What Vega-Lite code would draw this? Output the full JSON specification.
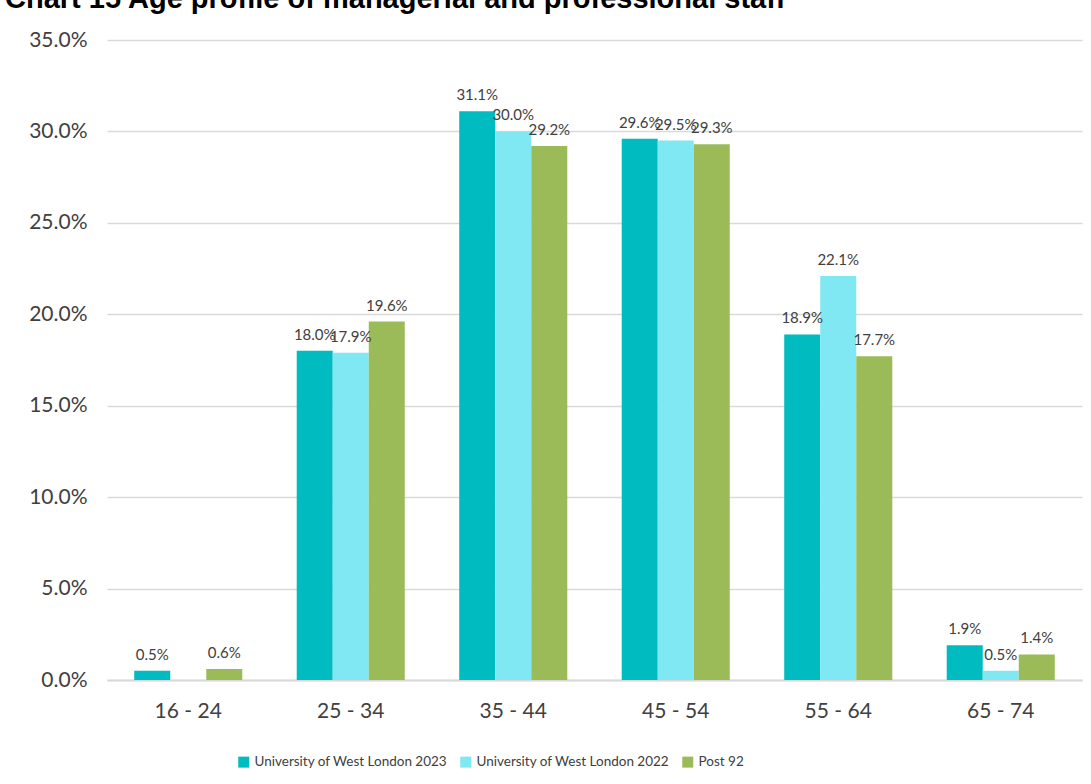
{
  "$schema": "https://vega.github.io/schema/vega-lite/v6.json",
  "width": 975,
  "height": 640,
  "autosize": {"type": "none"},
  "padding": {"left": 107, "top": 40, "right": 9, "bottom": 104},
  "background": "white",
  "title": {
    "text": "Chart 15 Age profile of managerial and professional staff",
    "anchor": "start",
    "frame": "group",
    "dx": -102,
    "dy": -11,
    "font": "Liberation Sans",
    "fontSize": 29,
    "fontWeight": "bold",
    "color": "#000000",
    "limit": 0
  },
  "config": {
    "view": {"stroke": null},
    "font": "Lato"
  },
  "data": {
    "values": [
      {"age": "16 - 24", "series": "University of West London 2023", "value": 0.005},
      {"age": "16 - 24", "series": "Post 92", "value": 0.006},
      {"age": "25 - 34", "series": "University of West London 2023", "value": 0.180},
      {"age": "25 - 34", "series": "University of West London 2022", "value": 0.179},
      {"age": "25 - 34", "series": "Post 92", "value": 0.196},
      {"age": "35 - 44", "series": "University of West London 2023", "value": 0.311},
      {"age": "35 - 44", "series": "University of West London 2022", "value": 0.300},
      {"age": "35 - 44", "series": "Post 92", "value": 0.292},
      {"age": "45 - 54", "series": "University of West London 2023", "value": 0.296},
      {"age": "45 - 54", "series": "University of West London 2022", "value": 0.295},
      {"age": "45 - 54", "series": "Post 92", "value": 0.293},
      {"age": "55 - 64", "series": "University of West London 2023", "value": 0.189},
      {"age": "55 - 64", "series": "University of West London 2022", "value": 0.221},
      {"age": "55 - 64", "series": "Post 92", "value": 0.177},
      {"age": "65 - 74", "series": "University of West London 2023", "value": 0.019},
      {"age": "65 - 74", "series": "University of West London 2022", "value": 0.005},
      {"age": "65 - 74", "series": "Post 92", "value": 0.014}
    ]
  },
  "encoding": {
    "x": {
      "field": "age",
      "type": "nominal",
      "sort": null,
      "scale": {"paddingInner": 0.335, "paddingOuter": 0.1675},
      "axis": {
        "title": null,
        "labelAngle": 0,
        "labelFontSize": 21,
        "labelColor": "#404040",
        "labelPadding": 20,
        "ticks": false,
        "domainColor": "#d9d9d9",
        "domainWidth": 2
      }
    },
    "xOffset": {
      "field": "series",
      "type": "nominal",
      "scale": {
        "domain": ["University of West London 2023", "University of West London 2022", "Post 92"],
        "paddingInner": 0,
        "paddingOuter": 0
      }
    },
    "y": {
      "field": "value",
      "type": "quantitative",
      "scale": {"domain": [0, 0.35], "nice": false},
      "axis": {
        "title": null,
        "format": ".1%",
        "values": [0, 0.05, 0.1, 0.15, 0.2, 0.25, 0.3, 0.35],
        "labelFontSize": 21,
        "labelColor": "#404040",
        "labelPadding": 20,
        "ticks": false,
        "domain": false,
        "gridColor": "#d9d9d9",
        "gridWidth": 1.5
      }
    }
  },
  "layer": [
    {
      "mark": {"type": "bar"},
      "encoding": {
        "color": {
          "field": "series",
          "type": "nominal",
          "scale": {
            "domain": ["University of West London 2023", "University of West London 2022", "Post 92"],
            "range": ["#00BCC0", "#7FE8F2", "#9BBB59"]
          },
          "legend": {
            "title": null,
            "orient": "none",
            "direction": "horizontal",
            "legendX": 130,
            "legendY": 715,
            "symbolType": "square",
            "symbolSize": 121,
            "symbolStrokeWidth": 0,
            "labelFontSize": 13.5,
            "labelLimit": 0,
            "labelColor": "#404040",
            "labelOffset": 4,
            "columnPadding": 11
          }
        }
      }
    },
    {
      "mark": {"type": "text", "baseline": "bottom", "dy": -8, "fontSize": 15, "color": "#404040"},
      "encoding": {
        "text": {"field": "value", "type": "quantitative", "format": ".1%"}
      }
    }
  ]
}
